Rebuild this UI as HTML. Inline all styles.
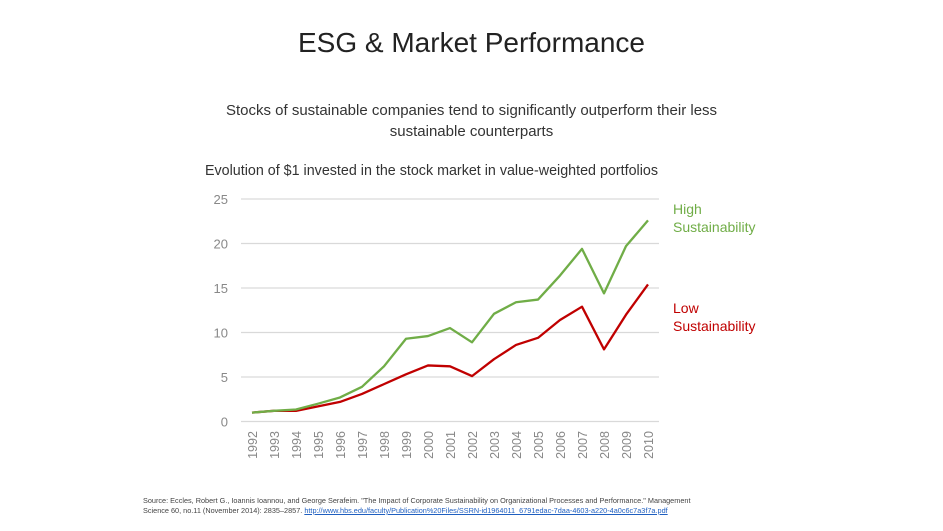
<!DOCTYPE html>
<html><head><meta charset="utf-8"><style>
body{margin:0;background:#fff;font-family:"Liberation Sans",sans-serif;}
.wrap{position:relative;width:943px;height:531px;overflow:hidden;}
.t{position:absolute;white-space:nowrap;}
</style></head><body><div class="wrap">
<div class="t" style="left:0;width:943px;text-align:center;top:27px;font-size:28px;color:#222;">ESG &amp; Market Performance</div>
<div class="t" style="left:0;width:943px;text-align:center;top:100px;font-size:15px;color:#333;line-height:21px;">Stocks of sustainable companies tend to significantly outperform their less<br>sustainable counterparts</div>
<div class="t" style="left:205px;top:163px;font-size:14.3px;color:#333;">Evolution of $1 invested in the stock market in value-weighted portfolios</div>
<svg id="chart" width="943" height="531" style="position:absolute;left:0;top:0"></svg>
<div class="t" style="left:673px;top:200px;font-size:14px;color:#70ad47;line-height:18px;">High<br>Sustainability</div>
<div class="t" style="left:673px;top:299px;font-size:14px;color:#c00000;line-height:18px;">Low<br>Sustainability</div>
<div class="t" style="left:143px;top:496px;font-size:7.3px;color:#444;line-height:10px;">Source: Eccles, Robert G., Ioannis Ioannou, and George Serafeim. "The Impact of Corporate Sustainability on Organizational Processes and Performance." Management<br>Science 60, no.11 (November 2014): 2835–2857. <span style="color:#1f5fc0;text-decoration:underline">http://www.hbs.edu/faculty/Publication%20Files/SSRN-id1964011_6791edac-7daa-4603-a220-4a0c6c7a3f7a.pdf</span></div>
</div>
<script>
const years=["1992","1993","1994","1995","1996","1997","1998","1999","2000","2001","2002","2003","2004","2005","2006","2007","2008","2009","2010"];
const highSust=[1.0,1.2,1.35,2.0,2.7,3.9,6.2,9.3,9.6,10.5,8.9,12.1,13.4,13.7,16.4,19.4,14.4,19.7,22.6];
const lowSust=[1.0,1.2,1.2,1.7,2.2,3.1,4.2,5.3,6.3,6.2,5.1,7.0,8.6,9.4,11.4,12.9,8.1,12.0,15.4];
const yTicks=[0,5,10,15,20,25];
const svg=document.getElementById('chart');const NS='http://www.w3.org/2000/svg';
const x0=252,x1=648,yb=421.5,yt=199,ymax=25,gl=241,gr=659;
const xs=i=>x0+(x1-x0)*i/(years.length-1);
const ys=v=>yb-(yb-yt)*v/ymax;
function mk(t,a){const e=document.createElementNS(NS,t);for(const k in a)e.setAttribute(k,a[k]);svg.appendChild(e);return e;}
yTicks.forEach(v=>{
 const l=mk('line',{x1:gl,x2:gr,y1:ys(v),y2:ys(v),stroke:'#d9d9d9','stroke-width':1.3});
 
 
 const t=mk('text',{x:228,y:ys(v)+5,'text-anchor':'end','font-size':13,fill:'#888','font-family':'Liberation Sans, sans-serif'});t.textContent=v;
 
 
});
years.forEach((y,i)=>{
 const t=mk('text',{x:0,y:0,transform:`translate(${xs(i)+5},445) rotate(-90)`,'text-anchor':'middle','font-size':12.5,fill:'#888','font-family':'Liberation Sans, sans-serif'});t.textContent=y;
 
 
});
function line(d,c,n){const p=mk('polyline',{points:d.map((v,i)=>xs(i)+','+ys(v)).join(' '),fill:'none',stroke:c,'stroke-width':2.3,'stroke-linejoin':'round'});
 
 }
line(lowSust,'#c00000','low-sustainability-line');
line(highSust,'#70ad47','high-sustainability-line');
</script></body></html>
